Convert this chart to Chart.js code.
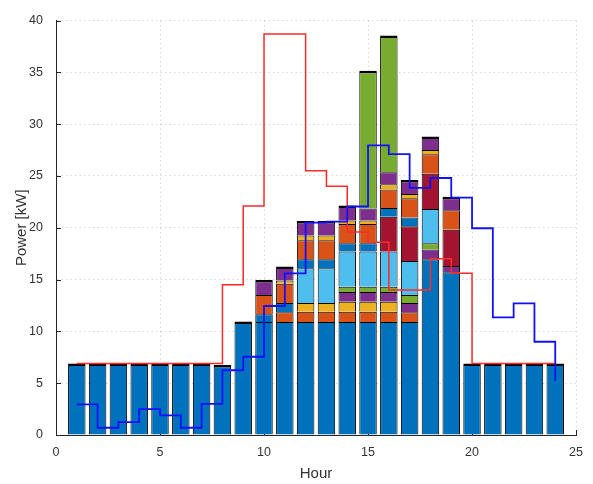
<!DOCTYPE html>
<html>
<head>
<meta charset="utf-8">
<script src="https://cdn.jsdelivr.net/npm/chart.js@4.4.0/dist/chart.umd.min.js"></script>
<style>
  html, body { margin: 0; padding: 0; background: #fff; }
</style>
</head>
<body>
<canvas id="chart" width="593" height="484"></canvas>
<script>
// uren op de x-as
const hours = [1,2,3,4,5,6,7,8,9,10,11,12,13,14,15,16,17,18,19,20,21,22,23,24];

// gestapelde reeksen (segmenthoogtes in kW), volgorde van onder naar boven
const s1  = [6.9,6.9,6.9,6.9,6.9,6.9,6.9,6.75,10.95,10.9,10.9,10.9,10.9,10.9,10.9,10.9,10.9,16.95,15.7,6.9,6.9,6.9,6.9,6.9];
const s2  = [0,0,0,0,0,0,0,0,0,0,0.95,1.0,1.0,1.0,1.0,1.0,0.95,0,0,0,0,0,0,0];
const s3  = [0,0,0,0,0,0,0,0,0,0,0,0.85,0.85,0.95,0.95,0.95,0,0,0,0,0,0,0,0];
const s4  = [0,0,0,0,0,0,0,0,0,0,0,0,0,0.95,0.95,0.95,0.9,0.95,0.6,0,0,0,0,0];
const s5  = [0,0,0,0,0,0,0,0,0,0,0,0,0,0.5,0.5,0.5,0.75,0.6,0,0,0,0,0,0];
const s6  = [0,0,0,0,0,0,0,0,0,0,0,3.35,3.35,3.4,3.4,3.4,3.3,3.3,0,0,0,0,0,0];
const s7  = [0,0,0,0,0,0,0,0,0,0,0,0,0,0,0,3.35,3.35,3.4,3.5,0,0,0,0,0];
const s8  = [0,0,0,0,0,0,0,0,0,0.75,0.9,0.85,0.85,0.8,0.8,0.85,0.85,0,0,0,0,0,0,0];
const s9  = [0,0,0,0,0,0,0,0,0,1.85,1.85,1.85,1.85,1.85,1.85,1.8,1.85,1.9,1.9,0,0,0,0,0];
const s10 = [0,0,0,0,0,0,0,0,0,0,0.3,0.45,0.45,0.35,0.35,0.5,0.4,0.4,0,0,0,0,0,0];
const s11 = [0,0,0,0,0,0,0,0,0,1.45,1.35,1.4,1.4,1.45,1.15,1.15,1.35,1.3,1.3,0,0,0,0,0];
const s12 = [0,0,0,0,0,0,0,0,0,0,0,0,0,0,13.3,13.2,0,0,0,0,0,0,0,0];

// trap-lijnen
const redLine  = [6.9,6.9,6.9,6.9,6.9,6.9,6.9,14.5,22.1,38.7,38.7,25.5,24.0,19.6,18.6,14.0,14.0,17.0,15.6,6.9,6.9,6.9,6.9,6.9];
const blueLine = [2.95,0.7,1.25,2.5,1.9,0.7,3.0,6.25,7.55,12.45,15.6,20.5,20.6,22.05,27.95,27.1,23.85,24.8,22.9,19.95,11.35,12.7,9.0,5.2];

// MATLAB kleurvolgorde
const colors = ['#0072BD','#D95319','#EDB120','#7E2F8E','#77AC30','#4DBEEE','#A2142F'];

const series = [s1,s2,s3,s4,s5,s6,s7,s8,s9,s10,s11,s12];

// bovenste segment per uur krijgt een dikkere rand
const topIndex = hours.map((h, i) => {
    let top = 0;
    series.forEach((s, k) => { if (s[i] > 0) top = k; });
    return top;
});

const barSets = series.map((s, k) => ({
    type: 'bar',
    data: hours.map((h, i) => ({x: h, y: s[i]})),
    backgroundColor: colors[k % colors.length],
    borderColor: '#000000',
    borderWidth: ctx => topIndex[ctx.dataIndex] === ctx.datasetIndex
        ? {top: 2.5, left: 1, right: 1, bottom: 0}
        : {top: 1, left: 1, right: 1, bottom: 0},
    borderSkipped: 'start',
    categoryPercentage: 1,
    barPercentage: 0.84,
    order: 2
}));

const lineSets = [
    {
        type: 'line',
        data: hours.map((h, i) => ({x: h, y: redLine[i]})),
        borderColor: '#ff2a2a',
        borderWidth: 1.5,
        pointRadius: 0,
        stepped: true,
        fill: false,
        stack: 'red',
        order: 1
    },
    {
        type: 'line',
        data: hours.map((h, i) => ({x: h, y: blueLine[i]})),
        borderColor: '#1010ff',
        borderWidth: 1.8,
        pointRadius: 0,
        stepped: true,
        fill: false,
        stack: 'blue',
        order: 0
    }
];

// tick-streepjes naar binnen, zoals in MATLAB
const inwardTicks = {
    id: 'inwardTicks',
    beforeDatasetsDraw(chart) {
        const {ctx, chartArea: a, scales: {x, y}} = chart;
        ctx.save();
        ctx.strokeStyle = '#262626';
        ctx.lineWidth = 1;
        ctx.beginPath();
        y.ticks.forEach(t => {
            const py = Math.round(y.getPixelForValue(t.value)) + 0.5;
            ctx.moveTo(a.left, py);
            ctx.lineTo(a.left + 5, py);
        });
        x.ticks.forEach(t => {
            const px = Math.round(x.getPixelForValue(t.value)) + 0.5;
            ctx.moveTo(px, a.bottom);
            ctx.lineTo(px, a.bottom - 5);
        });
        ctx.stroke();
        ctx.restore();
    }
};

Chart.defaults.font.family = '"Liberation Sans", Arial, Helvetica, sans-serif';
Chart.defaults.color = '#262626';

new Chart(document.getElementById('chart'), {
    type: 'bar',
    data: { datasets: [...barSets, ...lineSets] },
    options: {
        responsive: false,
        animation: false,
        layout: { padding: { left: 0, top: 12, right: 10, bottom: 0 } },
        plugins: { legend: { display: false }, tooltip: { enabled: false } },
        scales: {
            x: {
                type: 'linear',
                min: 0,
                max: 25,
                offset: false,
                stacked: true,
                grid: { offset: false, color: 'rgba(0,0,0,0.15)', lineWidth: 1, drawTicks: false },
                border: { display: true, color: '#262626', width: 1, dash: [1.5, 3] },
                ticks: { stepSize: 5, padding: 10, font: { size: 12.5 }, color: '#333333' },
                title: { display: true, text: 'Hour', font: { size: 15 }, color: '#333333', padding: { top: 0, bottom: 1 } },
                afterFit: scale => { scale.height = 49; }
            },
            y: {
                min: 0,
                max: 40,
                stacked: true,
                grid: { color: 'rgba(0,0,0,0.15)', lineWidth: 1, drawTicks: false },
                border: { display: true, color: '#262626', width: 1, dash: [1.5, 3] },
                ticks: { stepSize: 5, padding: 13, font: { size: 12.5 }, color: '#333333' },
                title: { display: true, text: 'Power [kW]', font: { size: 15 }, color: '#333333', padding: { top: 13, bottom: 0 } },
                afterFit: scale => { scale.width = 56; }
            }
        }
    },
    plugins: [inwardTicks]
});
</script>
</body>
</html>
